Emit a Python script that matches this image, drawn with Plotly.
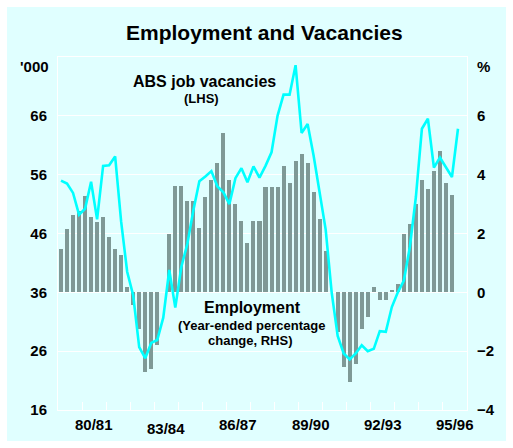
import plotly.graph_objects as go

# ---------------- data ----------------
start_year = 1979.5          # first quarter: Sep quarter 1979 (financial year 79/80)
employment_pct = [1.48, 2.16, 2.64, 2.78, 3.28, 2.55, 2.39, 2.55, 1.89, 1.48,
                  1.26, 0.19, -0.43, -1.26, -2.70, -2.62, -1.80, 0.0, 2.0, 3.6,
                  3.6, 3.09, 3.09, 2.19, 3.23, 3.83, 4.41, 5.40, 3.81, 2.99,
                  2.41, 1.68, 2.41, 2.41, 3.58, 3.57, 3.57, 4.31, 3.72, 4.47,
                  4.70, 4.40, 3.40, 2.50, 1.40, 0.0, -1.34, -2.53, -3.04, -2.45,
                  -1.25, -0.85, 0.18, -0.27, -0.27, 0.09, 0.28, 2.0, 2.32, 3.0,
                  3.82, 3.5, 4.14, 4.82, 3.73, 3.32]
vacancies_000 = [55.0, 54.5, 52.9, 49.2, 50.2, 54.8, 48.4, 57.5, 57.6, 59.1,
                 48.0, 39.5, 35.5, 26.7, 24.8, 27.4, 27.9, 31.7, 39.8, 33.4,
                 40.3, 44.2, 49.9, 54.9, 55.7, 56.6, 54.0, 53.0, 51.0, 55.4,
                 57.1, 54.7, 57.4, 55.5, 57.5, 59.8, 66.0, 69.6, 69.6, 74.6,
                 63.1, 64.6, 59.2, 52.8, 46.7, 36.0, 28.6, 25.6, 24.6, 25.6,
                 27.0, 26.0, 26.4, 29.4, 29.3, 33.5, 36.0, 38.0, 43.7, 52.2,
                 63.8, 65.5, 57.2, 58.9, 57.3, 55.6, 63.8]
fy_labels = ["80/81", "83/84", "86/87", "89/90", "92/93", "95/96"]
left_ticks = [16, 26, 36, 46, 56, 66]
right_ticks = [-4, -2, 0, 2, 4, 6]

# quarter centres in fractional years
x_emp = [start_year + (i + 0.5) / 4 for i in range(len(employment_pct))]
x_vac = [start_year + (i + 0.5) / 4 for i in range(len(vacancies_000))]
year_bounds = [start_year + k for k in range(18)]

# ---------------- style ----------------
W, H = 513, 448
L, R, T, B = 58, 46, 57, 38
PW, PH = W - L - R, H - T - B
BG = "#E0FFFF"
BAR = "#7F9996"
LINE = "#00FFFF"
FONT = "Liberation Sans, Arial, sans-serif"


def px(xp):
    return (xp - L) / PW


def py(yp):
    return (H - B - yp) / PH


fig = go.Figure()
fig.add_bar(x=x_emp, y=employment_pct, yaxis="y", width=0.25 * 0.67,
            marker=dict(color=BAR, line=dict(width=0)), showlegend=False,
            hoverinfo="skip")
fig.add_scatter(x=x_vac, y=vacancies_000, yaxis="y2", mode="lines",
                line=dict(color=LINE, width=2.6), showlegend=False,
                hoverinfo="skip")

annots = []
bold = dict(family=FONT, color="black", weight="bold")


def ann(text, xp, yp, size, xanchor="center"):
    annots.append(dict(text=text, x=px(xp), y=py(yp), xref="paper", yref="paper",
                       xanchor=xanchor, yanchor="middle", showarrow=False,
                       font=dict(size=size, **bold)))


ann("Employment and Vacancies", 264, 33, 21)
ann("'000", 51, 67, 15, "right")
ann("%", 475, 67, 15, "left")
ann("ABS job vacancies", 204, 81, 16)
ann("(LHS)", 201, 98, 13)
ann("Employment", 252, 307, 16)
ann("(Year-ended percentage", 251, 325, 13)
ann("change, RHS)", 250, 340, 13)

label_y = {"83/84": 428}
for lab in fy_labels:
    xc = int("19" + lab[:2]) + 1.0
    annots.append(dict(text=lab, x=xc, y=py(label_y.get(lab, 424)), xref="x", yref="paper",
                       xanchor="center", yanchor="middle", showarrow=False,
                       font=dict(size=15, **bold)))

fig.update_layout(
    width=W, height=H,
    margin=dict(l=L, r=R, t=T, b=B),
    paper_bgcolor="white",
    plot_bgcolor="rgba(0,0,0,0)",
    bargap=0,
    hovermode=False,
    annotations=annots,
    shapes=[dict(type="rect", xref="paper", yref="paper", layer="below",
                 x0=px(7), x1=px(506), y0=py(441), y1=py(7),
                 fillcolor=BG, line=dict(width=0))],
    xaxis=dict(range=[start_year, start_year + 17], tickvals=year_bounds,
               ticktext=["" for _ in year_bounds], ticks="inside", ticklen=8,
               tickcolor="white", tickwidth=1, showgrid=False, zeroline=False,
               showline=True, linecolor="white", linewidth=1, mirror=True),
    yaxis=dict(range=[-4, 8], side="right", tickvals=right_ticks,
               showgrid=True, gridcolor="white", gridwidth=1, zeroline=False,
               tickfont=dict(size=15, **bold), ticklabelstandoff=6,
               showline=True, linecolor="white", linewidth=1),
    yaxis2=dict(range=[16, 76], side="left", overlaying="y", tickvals=left_ticks,
                showgrid=False, zeroline=False,
                tickfont=dict(size=15, **bold), ticklabelstandoff=7,
                showline=True, linecolor="white", linewidth=1),
)

fig.write_html("out.html", config={"displayModeBar": False, "staticPlot": True},
               post_script="document.body.style.margin='0';document.body.style.overflow='hidden';")
